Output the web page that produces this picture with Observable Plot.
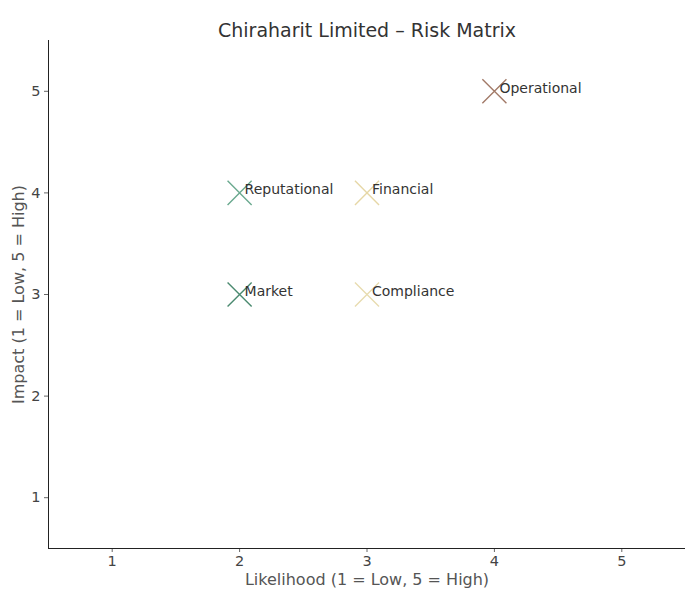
<!DOCTYPE html>
<html>
<head>
<meta charset="utf-8">
<script src="https://cdn.jsdelivr.net/npm/d3@7"></script>
<script src="https://cdn.jsdelivr.net/npm/@observablehq/plot@0.6"></script>
<style>
  body { margin: 0; background: #fff; }
  #chart svg { font-family: "DejaVu Sans", sans-serif; }
</style>
</head>
<body>
<div id="chart"></div>
<script>
const risks = ["Operational", "Reputational", "Financial", "Market", "Compliance"];
const likelihood = [4, 2, 3, 2, 3];
const impact = [5, 4, 4, 3, 3];
const colors = ["#a27a68", "#6aa98f", "#e6d7a6", "#4b8a70", "#e8dcb0"];
const ticks = [1, 2, 3, 4, 5];
const title = "Chiraharit Limited \u2013 Risk Matrix";

const data = risks.map((r, i) => ({ risk: r, x: likelihood[i], y: impact[i], color: colors[i] }));
const fmt = d => String(d);

const plot = Plot.plot({
  width: 686,
  height: 590,
  marginTop: 40,
  marginBottom: 42,
  marginLeft: 48,
  marginRight: 1,
  style: { fontFamily: "DejaVu Sans, sans-serif", fontSize: "14px", color: "#444", background: "#fff" },
  x: { domain: [0.5, 5.5] },
  y: { domain: [0.5, 5.5] },
  marks: [
    Plot.axisX({ ticks: ticks, tickFormat: fmt, tickSize: 4, tickPadding: 3, fontSize: 14.5, label: null, stroke: "#666", fill: "#444" }),
    Plot.axisY({ ticks: ticks, tickFormat: fmt, tickSize: 4, tickPadding: 4, fontSize: 14.5, label: null, stroke: "#666", fill: "#444" }),
    Plot.text(["Likelihood (1 = Low, 5 = High)"], { frameAnchor: "bottom", dy: 36, fontSize: 16, fill: "#555" }),
    Plot.text(["Impact (1 = Low, 5 = High)"], { frameAnchor: "left", textAnchor: "middle", dx: -30, rotate: -90, fontSize: 16, fill: "#555" }),
    Plot.ruleX([0.5], { stroke: "#222", strokeWidth: 1 }),
    Plot.ruleY([0.5], { stroke: "#222", strokeWidth: 1 }),
    Plot.dot(data, { x: "x", y: "y", symbol: "times", r: 11, stroke: d => d.color, strokeWidth: 1.4 }),
    Plot.text(data, { x: "x", y: "y", text: "risk", textAnchor: "start", dx: 5, dy: -3, fontSize: 14, fill: "#333" }),
    Plot.text([title], { frameAnchor: "top", dy: -17, fontSize: 19, fill: "#333" })
  ]
});
document.getElementById("chart").appendChild(plot);
</script>
</body>
</html>
